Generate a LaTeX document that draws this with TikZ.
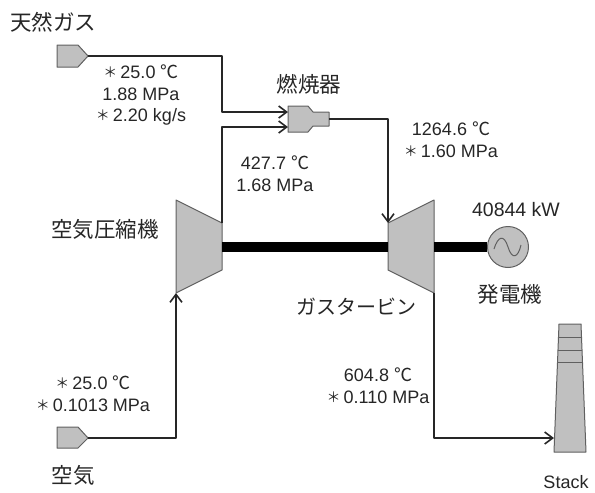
\documentclass[tikz,border=0pt]{standalone}
\usepackage{fontspec}
\setmainfont{Liberation Sans}
\newfontfamily\cjk{Noto Sans CJK JP}
\usetikzlibrary{arrows.meta}
\newcommand{\degc}{{\cjk ℃}}
\newcommand{\astk}{\raisebox{1pt}{\cjk\fontsize{14}{14}\selectfont ＊}\hspace{3pt}}
\definecolor{partfill}{HTML}{C0C0C0}
\definecolor{partedge}{HTML}{606060}
\begin{document}
\begin{tikzpicture}[x=1pt,y=-1pt,>={Straight Barb[length=8pt,width=12pt,line width=1.6pt]},
	part/.style={draw=partedge,fill=partfill,line width=1pt,line join=round},
	flow/.style={draw=black!85,line width=2pt,line join=round},
	thinflow/.style={draw=black!85,line width=1.5pt,line join=round},
	shaft/.style={draw=black,line width=10pt},
	val/.style={inner sep=0pt,align=center,text=black!85,font=\fontsize{18}{21.7}\selectfont},
	jlabel/.style={inner sep=0pt,text=black!85,font=\cjk\fontsize{21.5}{24}\selectfont}]

	\useasboundingbox (0,0) rectangle (595,493);

	% connection points
	\coordinate (gasout) at (88,56);
	\coordinate (gasturn) at (222,56);
	\coordinate (gasknee) at (222,112);
	\coordinate (burnergas) at (288,112);
	\coordinate (burnerair) at (288,127);
	\coordinate (airknee) at (222,127);
	\coordinate (burnerout) at (329,119);
	\coordinate (burnerturn) at (388,119);
	\coordinate (compout) at (222,223);
	\coordinate (compin) at (176,293);
	\coordinate (compshaft) at (222,247);
	\coordinate (airout) at (88,438);
	\coordinate (airturn) at (176,438);
	\coordinate (turbin) at (388,223);
	\coordinate (turbout) at (434,293);
	\coordinate (turbshafta) at (388,247);
	\coordinate (turbshaftb) at (434,247);
	\coordinate (stackknee) at (434,438);
	\coordinate (stackin) at (554,438);

	% parts
	\draw [part] (57,45) -- (78,45) -- (gasout) -- (78,67) -- (57,67) -- cycle;
	\draw [part] (57,427) -- (78,427) -- (airout) -- (78,448) -- (57,448) -- cycle;
	\draw [part] (288,106) -- (308,106) -- (313,112) -- (329,112) -- (329,126) -- (313,126) -- (308,132) -- (288,132) -- cycle;
	\draw [part] (176,200) -- (compout) -- (222,270) -- (compin) -- cycle;
	\draw [part] (turbin) -- (434,200) -- (turbout) -- (388,270) -- cycle;
	\node (generator) [part,circle,minimum size=41pt,inner sep=0pt] at (508,247) {};
	\draw [partedge,line width=1pt] (494,249) .. controls (498,236) and (504,234) .. (508,247) .. controls (512,260) and (518,258) .. (521,245);
	\draw [part] (554,452) -- (559,324) -- (581,324) -- (586,452) -- cycle;
	\draw [part] (558.5,337) -- (581.5,337);
	\draw [part] (558,350) -- (582,350);
	\draw [part] (557.5,362) -- (582.5,362);

	% shafts
	\draw [shaft] (compshaft) -- (turbshafta);
	\draw [shaft] (turbshaftb) -- (generator);

	% flows
	\draw [flow,->] (gasout) -- (gasturn) -- (gasknee) -- (burnergas);
	\draw [flow,->] (compout) -- (airknee) -- (burnerair);
	\draw [thinflow,->] (burnerout) -- (burnerturn) -- (turbin);
	\draw [flow,->] (airout) -- (airturn) -- (compin);
	\draw [flow,->] (turbout) -- (stackknee) -- (stackin);

	% labels
	\node (gaslabel) [jlabel] at (53,22) {天然ガス};
	\node (burnerlabel) [jlabel] at (309,84) {燃焼器};
	\node (complabel) [jlabel] at (105,229) {空気圧縮機};
	\node (turblabel) [jlabel,font=\cjk\fontsize{20}{24}\selectfont] at (356,307) {ガスタービン};
	\node (genlabel) [jlabel] at (510,294) {発電機};
	\node (airlabel) [jlabel] at (73,475) {空気};
	\node (stacklabel) [val] at (566,482) {Stack};

	% values
	\node (gasval) [val] at (141,95) {\astk 25.0 \degc\\1.88 MPa\\\astk 2.20 kg/s};
	\node (compval) [val] at (275,174) {427.7 \degc\\1.68 MPa};
	\node (burnerval) [val] at (451,139.5) {1264.6 \degc\\\astk 1.60 MPa};
	\node (genval) [val,font=\fontsize{19.5}{24}\selectfont] at (516,210) {40844 kW};
	\node (airval) [val] at (93,394) {\astk 25.0 \degc\\\astk 0.1013 MPa};
	\node (turbval) [val] at (378,386) {604.8 \degc\\\astk 0.110 MPa};
\end{tikzpicture}
\end{document}
